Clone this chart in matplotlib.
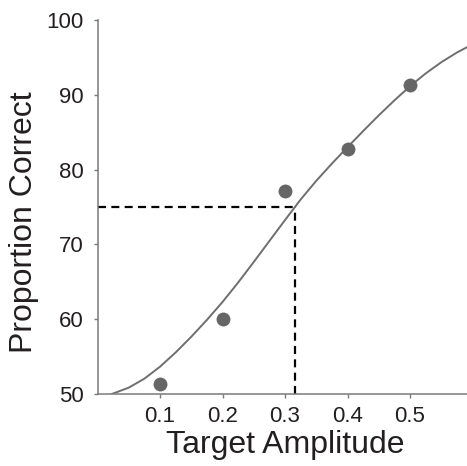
import numpy as np
import matplotlib
matplotlib.use('Agg')
import matplotlib.pyplot as plt

# measured proportion correct at each target amplitude
amplitude = [0.1, 0.2, 0.3, 0.4, 0.5]
pct_correct = [51.4, 60.0, 77.1, 82.8, 91.3]

# fitted psychometric function, sampled along the curve
fit_x = [0.023, 0.05, 0.075, 0.1, 0.125, 0.15, 0.175, 0.2, 0.225, 0.25,
         0.275, 0.3, 0.325, 0.35, 0.375, 0.4, 0.425, 0.45, 0.475, 0.5,
         0.525, 0.55, 0.575, 0.6]
fit_y = [50.0, 50.85, 52.05, 53.65, 55.55, 57.65, 59.9, 62.3, 64.9, 67.65,
         70.45, 73.25, 76.0, 78.5, 80.8, 83.0, 85.15, 87.25, 89.25, 91.15,
         92.85, 94.35, 95.65, 96.75]

# 75% correct threshold
thresh_x = 0.3155
thresh_y = 75

xticks = [0.1, 0.2, 0.3, 0.4, 0.5]
yticks = [50, 60, 70, 80, 90, 100]


def main():
    plt.rcParams['font.family'] = ['Liberation Sans', 'DejaVu Sans']
    txt = '#231f20'
    axcol = '#7a7a7a'

    fig = plt.figure(figsize=(4.67, 4.66), dpi=100)
    ax = fig.add_axes([97.5/467, 72/466, 375/467, 374/466])
    ax.set_xlim(0, 0.6)
    ax.set_ylim(50, 100)

    ax.plot(fit_x, fit_y, color='#6e6e6e', linewidth=1.4, zorder=2)
    ax.plot(amplitude, pct_correct, linestyle='None', marker='o', markersize=10,
            color='#666666', markeredgewidth=0, zorder=3)

    # dashed guides to the threshold
    h, = ax.plot([0, thresh_x], [thresh_y, thresh_y], color='k', linewidth=1.6, zorder=1)
    v, = ax.plot([thresh_x, thresh_x], [50, thresh_y], color='k', linewidth=1.6, zorder=1)
    for ln in (h, v):
        ln.set_dashes([3.6, 2.4])

    for s in ['top', 'right']:
        ax.spines[s].set_visible(False)
    for s in ['left', 'bottom']:
        ax.spines[s].set_color(axcol)
        ax.spines[s].set_linewidth(1.1)

    ax.set_xticks(xticks)
    ax.set_xticklabels([str(t) for t in xticks])
    ax.set_yticks(yticks)
    ax.tick_params(direction='out', length=3, width=1, color=axcol,
                   labelsize=16, labelcolor=txt)
    ax.tick_params(axis='y', pad=7)
    ax.tick_params(axis='x', pad=6)

    ax.set_xlabel('Target Amplitude', fontsize=23, color=txt, labelpad=2)
    ax.set_ylabel('Proportion Correct', fontsize=23, color=txt)
    ax.yaxis.set_label_coords(-0.155, 0.46)

    fig.savefig('out.png', dpi=100)


if __name__ == '__main__':
    main()
